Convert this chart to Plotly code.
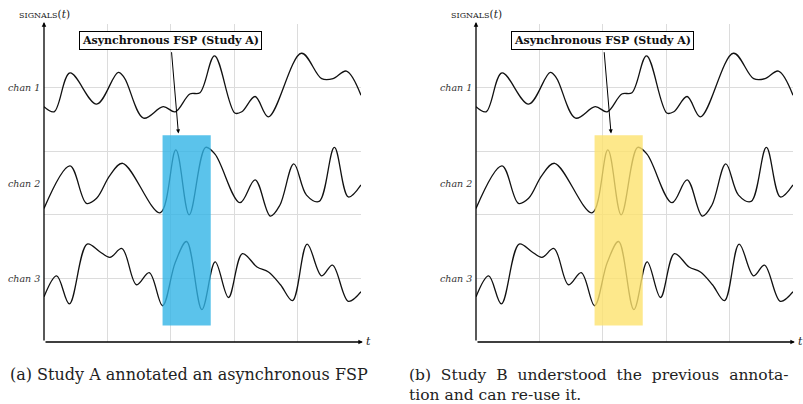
import plotly.graph_objects as go

# ---- data (t in grid units, value in grid units) ----
chan1_t = [0, 0.16, 0.41, 0.83, 1.17, 1.27, 1.57, 1.88, 2.07, 2.30, 2.46, 2.69, 3.01, 3.12, 3.33, 3.54, 4.06, 4.38, 4.56, 4.77, 5.0]
chan1_v = [3.70, 3.62, 4.23, 3.74, 4.24, 4.15, 3.52, 3.70, 3.62, 3.90, 3.92, 4.50, 3.60, 3.62, 3.86, 3.54, 4.54, 4.14, 4.14, 4.26, 3.88]

chan2_t = [0, 0.41, 0.67, 0.83, 1.04, 1.24, 1.83, 2.08, 2.29, 2.55, 2.70, 3.09, 3.33, 3.57, 3.72, 3.94, 4.14, 4.34, 4.58, 4.80, 5.0]
chan2_v = [2.10, 2.77, 2.18, 2.26, 2.62, 2.81, 2.03, 3.02, 2.00, 3.06, 2.95, 2.19, 2.55, 1.98, 2.15, 2.80, 2.31, 2.21, 3.06, 2.28, 2.47]

chan3_t = [0, 0.20, 0.40, 0.68, 0.88, 1.04, 1.23, 1.46, 1.66, 1.87, 2.07, 2.25, 2.49, 2.70, 2.91, 3.13, 3.36, 3.54, 3.73, 3.92, 4.15, 4.38, 4.55, 4.80, 5.0]
chan3_v = [0.71, 1.04, 0.60, 1.54, 1.42, 1.33, 1.47, 0.90, 1.09, 0.57, 1.25, 1.58, 0.51, 1.26, 0.70, 1.39, 1.18, 1.10, 0.90, 0.65, 1.54, 1.04, 1.21, 0.64, 0.79]

chan_labels = ["chan 1", "chan 2", "chan 3"]
chan_pos = [4.0, 2.5, 1.0]

fsp_t = [1.87, 2.63]
fsp_v = [0.26, 3.25]

box_text = "Asynchronous FSP (Study A)"
captions = ["(a) Study A annotated an asynchronous FSP",
            "(b)&nbsp; Study&nbsp; B&nbsp; understood&nbsp; the&nbsp; previous&nbsp; annota-<br>tion and can re-use it."]
fsp_colors = ["rgba(50,180,230,0.8)", "rgba(252,226,110,0.8)"]

FONT = "DejaVu Serif"

fig = go.Figure()
domains = [(44 / 803, 361 / 803), (476 / 803, 793 / 803)]
ydom = (62 / 404, 380 / 404)

for i in range(2):
    xa = "x" if i == 0 else "x2"
    ya = "y" if i == 0 else "y2"
    for tt, vv in [(chan1_t, chan1_v), (chan2_t, chan2_v), (chan3_t, chan3_v)]:
        fig.add_trace(go.Scatter(x=tt, y=vv, mode="lines", xaxis=xa, yaxis=ya,
                                 line=dict(color="#111111", width=1.3, shape="spline", smoothing=1.0),
                                 showlegend=False, hoverinfo="skip"))
    fig.add_shape(type="rect", xref=xa, yref=ya, x0=fsp_t[0], x1=fsp_t[1], y0=fsp_v[0], y1=fsp_v[1],
                  fillcolor=fsp_colors[i], line=dict(width=0), layer="above")
    # axis arrows
    fig.add_annotation(x=0, y=5.03, xref=xa, yref=ya, axref=xa, ayref=ya, ax=0, ay=0,
                       text="", showarrow=True, arrowhead=2, arrowsize=0.7, arrowwidth=1.3, arrowcolor="black")
    fig.add_annotation(x=5.03, y=0, xref=xa, yref=ya, axref=xa, ayref=ya, ax=0, ay=0,
                       text="", showarrow=True, arrowhead=2, arrowsize=0.7, arrowwidth=1.3, arrowcolor="black")
    fig.add_annotation(x=1, y=0, xref=xa + " domain", yref=ya + " domain", text="<i>t</i>", showarrow=False,
                       xanchor="left", yanchor="middle", xshift=3,
                       font=dict(family=FONT, size=11, color="#222"))
    fig.add_annotation(x=0, y=5, xref=xa, yref=ya,
                       text="<span style='font-size:8px'>SIGNALS</span>(<i>t</i>)", showarrow=False,
                       xanchor="center", yanchor="bottom", yshift=2,
                       font=dict(family=FONT, size=10.5, color="#222"))
    for lab, pos in zip(chan_labels, chan_pos):
        fig.add_annotation(x=0, y=pos, xref=xa, yref=ya, text="<i>" + lab + "</i>", showarrow=False,
                           xanchor="right", yanchor="middle", xshift=-2,
                           font=dict(family=FONT, size=9.5, color="#333"))
    # FSP callout
    bx = 2.01 if i == 0 else 2.02
    fig.add_annotation(x=2.12 if i == 0 else 2.13, y=3.28, xref=xa, yref=ya,
                       axref=xa, ayref=ya, ax=bx, ay=4.58,
                       text="", showarrow=True, arrowhead=2, arrowsize=0.8, arrowwidth=1.0, arrowcolor="black")
    fig.add_annotation(x=2.0, y=4.74, xref=xa, yref=ya,
                       text="<b>" + box_text + "</b>", showarrow=False,
                       xanchor="center", yanchor="middle", bgcolor="white",
                       bordercolor="black", borderwidth=1, borderpad=2,
                       font=dict(family=FONT, size=11, color="#111"))

fig.add_annotation(x=8 / 803, y=(404 - 374) / 404, xref="paper", yref="paper", text=captions[0],
                   showarrow=False, xanchor="left", yanchor="middle",
                   font=dict(family=FONT, size=16, color="#222"))
fig.add_annotation(x=407 / 803, y=(404 - 385) / 404, xref="paper", yref="paper", text=captions[1],
                   showarrow=False, xanchor="left", yanchor="middle", align="left",
                   font=dict(family=FONT, size=15.5, color="#222"))

axis_common = dict(range=[0, 5], tickvals=[0, 1, 2, 3, 4, 5], showticklabels=False, ticks="",
                   showgrid=True, gridcolor="#dcdcdc", gridwidth=1, zeroline=False, showline=False,
                   fixedrange=True)
fig.update_layout(
    width=803, height=404, margin=dict(l=0, r=0, t=0, b=0),
    paper_bgcolor="white", plot_bgcolor="white", showlegend=False,
    xaxis=dict(domain=domains[0], anchor="y", **axis_common),
    yaxis=dict(domain=ydom, anchor="x", **axis_common),
    xaxis2=dict(domain=domains[1], anchor="y2", **axis_common),
    yaxis2=dict(domain=ydom, anchor="x2", **axis_common),
)

fig.write_html("out.html", config={"displayModeBar": False},
               post_script="document.body.style.margin='0';document.body.style.overflow='hidden';")
